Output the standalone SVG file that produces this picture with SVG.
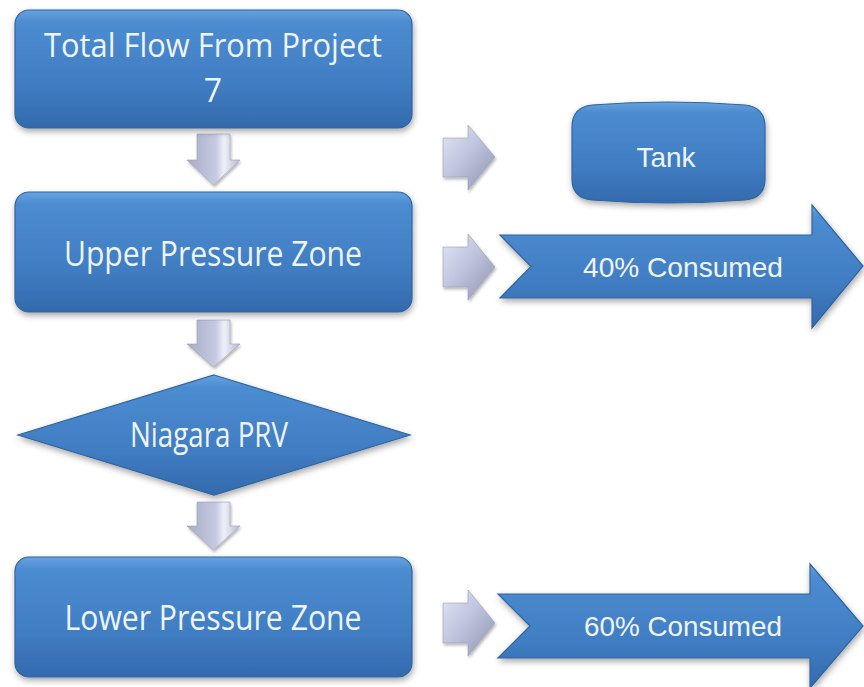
<svg xmlns="http://www.w3.org/2000/svg" width="864" height="687" viewBox="0 0 864 687">
<defs>
<linearGradient id="blue" x1="0" y1="0" x2="0" y2="1">
<stop offset="0" stop-color="#68a3e0"/>
<stop offset="0.1" stop-color="#4c8cd0"/>
<stop offset="0.6" stop-color="#417ec3"/>
<stop offset="1" stop-color="#336aad"/>
</linearGradient>
<linearGradient id="gray" x1="0" y1="0" x2="1" y2="1">
<stop offset="0" stop-color="#e2e6f4"/>
<stop offset="0.45" stop-color="#bfc5de"/>
<stop offset="1" stop-color="#8d93ad"/>
</linearGradient>
<linearGradient id="grayv" x1="0" y1="0" x2="1" y2="0">
<stop offset="0" stop-color="#a6acc6"/>
<stop offset="0.55" stop-color="#c6cbe2"/>
<stop offset="0.7" stop-color="#eef0f8"/>
<stop offset="1" stop-color="#b5bad2"/>
</linearGradient>
<filter id="sh" x="-10%" y="-10%" width="120%" height="130%">
<feDropShadow dx="1" dy="3" stdDeviation="3" flood-color="#000" flood-opacity="0.35"/>
</filter>
<filter id="sh2" x="-20%" y="-20%" width="140%" height="140%">
<feDropShadow dx="1" dy="2" stdDeviation="1.5" flood-color="#000" flood-opacity="0.3"/>
</filter>
</defs>
<style>
.node{fill:url(#blue);stroke:#3064a0;stroke-width:1.2;filter:url(#sh)}
.lbl{font-family:"Open Sans","Noto Sans",sans-serif;font-size:34px;fill:#eef4fb;text-anchor:middle}
.lbl2{font-family:"Liberation Sans",Arial,sans-serif;font-size:28px;fill:#eef4fb;text-anchor:middle}
.conn{fill:url(#gray);stroke:#9aa0b8;stroke-width:0.6;filter:url(#sh2)}
.connv{fill:url(#grayv);stroke:#9aa0b8;stroke-width:0.6;filter:url(#sh2)}
</style>
<rect width="864" height="687" fill="#ffffff"/>
<g id="connectors">
<path class="connv" d="M197,134 L230,134 L230,160 L240,160 L213.5,185 L187,160 L197,160 Z"/>
<path class="connv" d="M197,320 L230,320 L230,344 L240,344 L213.5,367 L187,344 L197,344 Z"/>
<path class="connv" d="M197,502 L230,502 L230,526 L240,526 L213.5,550 L187,526 L197,526 Z"/>
<path class="conn" d="M443,138 L468,138 L468,125 L495,157 L468,190 L468,177 L443,177 Z"/>
<path class="conn" d="M443,247 L468,247 L468,234 L495,267 L468,300 L468,287 L443,287 Z"/>
<path class="conn" d="M443,603 L468,603 L468,590 L495,623 L468,656 L468,643 L443,643 Z"/>
</g>
<g id="total-flow">
<rect class="node" x="15" y="10" width="397" height="118" rx="14"/>
<text class="lbl" style="font-size:32px" x="213" y="57" textLength="338" lengthAdjust="spacingAndGlyphs">Total Flow From Project</text>
<text class="lbl" style="font-size:32px" x="213" y="102">7</text>
</g>
<g id="upper-zone">
<rect class="node" x="15" y="192" width="397" height="120" rx="14"/>
<text class="lbl" x="213" y="266" textLength="298" lengthAdjust="spacingAndGlyphs">Upper Pressure Zone</text>
</g>
<g id="niagara-prv">
<path class="node" d="M214,375 L410,435 L214,495 L18,435 Z"/>
<text class="lbl" x="209" y="447" textLength="158" lengthAdjust="spacingAndGlyphs">Niagara PRV</text>
</g>
<g id="lower-zone">
<rect class="node" x="15" y="557" width="397" height="120" rx="14"/>
<text class="lbl" x="213" y="630" textLength="297" lengthAdjust="spacingAndGlyphs">Lower Pressure Zone</text>
</g>
<g id="tank">
<path class="node" d="M592,105 Q668,99 745,105 Q765,107 765,127 L765,179 Q765,198 745,200 Q668,206 592,200 Q572,198 572,179 L572,127 Q572,107 592,105 Z"/>
<text class="lbl2" x="666" y="167">Tank</text>
</g>
<g id="consumed-40">
<path class="node" d="M500,235 L812,235 L812,205 L863,266 L812,328 L812,298 L500,298 L531,266.5 Z"/>
<text class="lbl2" x="683" y="277" textLength="200" lengthAdjust="spacingAndGlyphs">40% Consumed</text>
</g>
<g id="consumed-60">
<path class="node" d="M498,594 L810,594 L810,564 L863,626 L810,688 L810,658 L498,658 L530,626 Z"/>
<text class="lbl2" x="683" y="636" textLength="198" lengthAdjust="spacingAndGlyphs">60% Consumed</text>
</g>
</svg>
